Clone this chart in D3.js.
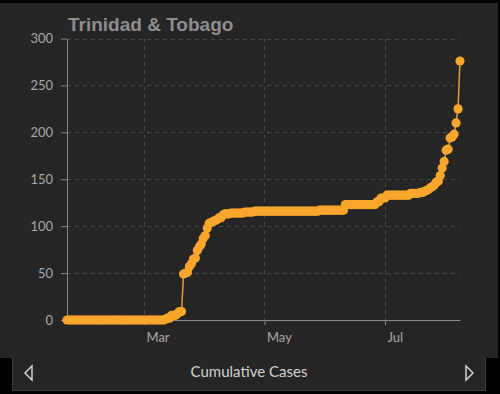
<!DOCTYPE html>
<html>
<head>
<meta charset="utf-8">
<script src="https://cdn.jsdelivr.net/npm/d3@7"></script>
<style>
  body { margin: 0; background: #000; }
  svg { display: block; }
</style>
</head>
<body>
<svg id="chart" width="500" height="394"></svg>
<script>
// daily cumulative cases, one array per month (series starts Jan 22 2020)
var janCases = [0,0,0,0,0,0,0,0,0,0];
var febCases = [0,0,0,0,0,0,0,0,0,0,0,0,0,0,0,0,0,0,0,0,0,0,0,0,0,0,0,0,0];
var marCases = [0,0,0,0,0,0,0,0,0,0,0,1,2,2,5,5,5,7,9,9,49,50,51,57,60,65,66,74,78,81,87];
var aprCases = [90,98,103,104,105,106,107,109,109,112,113,113,113,114,114,114,114,114,114,114,115,115,115,115,115,116,116,116,116,116];
var mayCases = [116,116,116,116,116,116,116,116,116,116,116,116,116,116,116,116,116,116,116,116,116,116,116,116,116,116,116,116,117,117,117];
var junCases = [117,117,117,117,117,117,117,117,117,117,123,123,123,123,123,123,123,123,123,123,123,123,123,123,123,123,126,126,130,130];
var julCases = [130,133,133,133,133,133,133,133,133,133,133,133,133,135,135,135,135,135,136,136,137,138,139,141,142,144,147,148,154,162,169];
var augCases = [181,182,194,195,198,210,225,276];

var yTicks = [0, 50, 100, 150, 200, 250, 300];
var title = "Trinidad & Tobago";
var footer = "Cumulative Cases";

var startDate = new Date(2020, 0, 22);
var values = [].concat(janCases, febCases, marCases, aprCases, mayCases, junCases, julCases, augCases);
var data = values.map(function(v, i) {
  return { date: d3.timeDay.offset(startDate, i), value: v };
});

var svg = d3.select("#chart");
var orange = "#f9a62c";
var panel = "#252525";

// background: bottom tab then main panel
svg.append("rect")
  .attr("x", 12.5).attr("y", 340).attr("width", 473).attr("height", 50.5)
  .attr("fill", panel).attr("stroke", "#3a3a3a");
svg.append("rect")
  .attr("x", 0).attr("y", 3).attr("width", 498).attr("height", 355)
  .attr("fill", panel);

var x = d3.scaleTime()
  .domain([startDate, data[data.length - 1].date])
  .range([67, 460]);
var y = d3.scaleLinear().domain([0, 300]).range([320, 38.5]);

var monthTicks = x.ticks(d3.timeMonth.every(2));

// dashed grid
var grid = svg.append("g")
  .attr("stroke", "#474747")
  .attr("stroke-dasharray", "4,4")
  .attr("stroke-width", 1);
grid.selectAll(".hg").data(yTicks.slice(1)).enter().append("line")
  .attr("x1", 67).attr("x2", 460)
  .attr("y1", function(d) { return Math.round(y(d)) + 0.5; })
  .attr("y2", function(d) { return Math.round(y(d)) + 0.5; });
grid.selectAll(".vg").data(monthTicks).enter().append("line")
  .attr("y1", y(300)).attr("y2", y(0))
  .attr("x1", function(d) { return Math.round(x(d)) + 0.5; })
  .attr("x2", function(d) { return Math.round(x(d)) + 0.5; });

// axes
var xAxis = svg.append("g")
  .attr("transform", "translate(0," + y(0) + ")")
  .call(d3.axisBottom(x).tickValues(monthTicks)
    .tickFormat(d3.timeFormat("%b")).tickSize(5).tickSizeOuter(0).tickPadding(8));
xAxis.selectAll("text").attr("text-anchor", "start").attr("dx", 2);

var yAxis = svg.append("g")
  .attr("transform", "translate(67,0)")
  .call(d3.axisLeft(y).tickValues(yTicks).tickSize(6).tickSizeOuter(0).tickPadding(8));

svg.selectAll(".domain, .tick line").attr("stroke", "#8a8a8a");
svg.selectAll(".tick text")
  .attr("fill", "#a9a9a9")
  .style("font-family", "Lato, 'Noto Sans', sans-serif")
  .style("font-size", "13px");

// series
svg.append("path")
  .datum(data)
  .attr("fill", "none")
  .attr("stroke", "#e39e38")
  .attr("stroke-width", 1.5)
  .attr("d", d3.line().x(function(d) { return x(d.date); }).y(function(d) { return y(d.value); }));

svg.append("g").selectAll("circle").data(data).enter().append("circle")
  .attr("cx", function(d) { return x(d.date); })
  .attr("cy", function(d) { return y(d.value); })
  .attr("r", 4.6)
  .attr("fill", orange);

// title
svg.append("text")
  .attr("x", 68).attr("y", 31)
  .attr("fill", "#8e8e8e")
  .style("font-family", "'Liberation Sans', Arial, sans-serif")
  .style("font-weight", "bold")
  .style("font-size", "19px")
  .text(title);

// footer tab
svg.append("text")
  .attr("x", 249).attr("y", 377)
  .attr("text-anchor", "middle")
  .attr("fill", "#d2d2d2")
  .style("font-family", "Lato, 'Noto Sans', sans-serif")
  .style("font-size", "15px")
  .text(footer);

svg.append("path")
  .attr("d", "M25,373L32,366L32,380Z")
  .attr("fill", "none").attr("stroke", "#dcdcdc").attr("stroke-width", 1.4);
svg.append("path")
  .attr("d", "M473,373L466,366L466,380Z")
  .attr("fill", "none").attr("stroke", "#dcdcdc").attr("stroke-width", 1.4);
</script>
</body>
</html>
